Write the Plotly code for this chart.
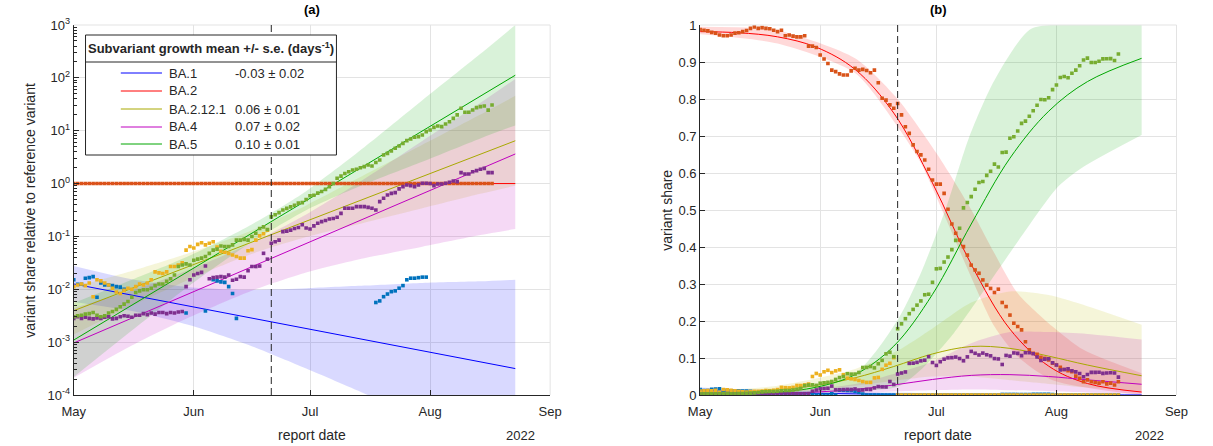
import numpy as np
import pandas as pd
import plotly.graph_objects as go

START = pd.Timestamp("2022-05-01")

variants = ["BA.1", "BA.2", "BA.2.12.1", "BA.4", "BA.5"]
growth_text = ["-0.03 ± 0.02", "", "0.06 ± 0.01", "0.07 ± 0.02", "0.10 ± 0.01"]

fit_colors = ["#0000FF", "#FF0000", "#A8A800", "#BF00BF", "#00A600"]
band_colors = ["rgba(0,0,255,0.15)", "rgba(255,0,0,0.15)", "rgba(190,190,0,0.15)",
               "rgba(190,0,190,0.15)", "rgba(0,166,0,0.15)"]
dot_colors = ["#0072BD", "#D95319", "#EDB120", "#7E2F8E", "#77AC30"]

# ---------- observed data: log10(share / share of BA.2), days since 1 May 2022 ----------
ba1_days = [0, 1, 2, 3, 4, 5, 6, 7, 8, 9, 10, 11, 12, 13, 29, 34, 36, 37, 38, 39, 40, 41, 42,
            78, 79, 80, 81, 82, 83, 84, 85, 86, 87, 88, 89, 90, 91]
ba1_log10 = [-1.82, -1.905, -1.905, -1.79, -1.78, -1.76, -2.15, -1.88, -1.92, -1.92, -1.93, -1.95,
             -1.96, -2.0, -2.45, -2.41, -1.82, -1.84, -1.86, -1.87, -1.95, -2.08, -2.55,
             -2.25, -2.22, -2.14, -2.09, -2.045, -2.03, -1.98, -1.93, -1.82, -1.79, -1.79, -1.78,
             -1.77, -1.77]

ba2_days = list(range(0, 109))
ba2_log10 = [0.0] * 109

ba2121_days = list(range(0, 51))
ba2121_log10 = [-1.95, -1.92, -1.90, -1.93, -1.88, -2.14, -1.82, -1.84, -1.88, -1.92,
                -1.98, -2.05, -2.08, -2.02, -1.98, -2.00, -1.95, -1.90, -1.92, -1.88,
                -1.82, -1.67, -1.69, -1.70, -1.67, -1.57, -1.57, -1.54, -1.50, -1.26,
                -1.19, -1.22, -1.15, -1.12, -1.16, -1.13, -1.10, -1.20, -1.28, -1.30,
                -1.32, -1.35, -1.38, -1.41, -1.41, -1.27, -1.25, -1.07, -0.99, -0.95, -0.88]

ba4_days = list(range(0, 109))
ba4_log10 = [-2.55, -2.52, -2.55, -2.53, -2.55, -2.56, -2.54, -2.55, -2.53, -2.52,
             -2.56, -2.55, -2.52, -2.50, -2.51, -2.53, -2.49, -2.49, -2.46, -2.48,
             -2.45, -2.47, -2.44, -2.44, -2.46, -2.44, -2.45, -2.43, -2.42, -1.95,
             -1.82, -1.73, -1.70, -1.68, -1.56, -1.80, -1.78, -1.77, -1.76, -1.77,
             -1.73, -1.83, -1.81, -1.76, -1.77, -1.65, -1.57, -1.57, -1.56, -1.32,
             -1.43, -1.13, -1.10, -1.07, -0.91, -0.90, -0.88, -0.85, -0.83, -0.78,
             -0.84, -0.86, -0.80, -0.75, -0.72, -0.70, -0.67, -0.66, -0.638, -0.563,
             -0.468, -0.468, -0.468, -0.437, -0.437, -0.437, -0.45, -0.468, -0.50, -0.342,
             -0.279, -0.216, -0.185, -0.172, -0.10, -0.058, -0.027, -0.039, -0.058, -0.027,
             0.005, 0.005, 0.0, -0.039, -0.007, -0.007, 0.005, 0.024, 0.049, 0.036,
             0.207, 0.181, 0.181, 0.225, 0.244, 0.27, 0.288, 0.207, 0.207]

ba5_days = list(range(0, 109))
ba5_log10 = [-2.52, -2.50, -2.49, -2.47, -2.46, -2.44, -2.49, -2.52, -2.50, -2.45,
             -2.42, -2.38, -2.33, -2.28, -2.23, -2.15, -2.06, -2.03, -2.01, -2.01,
             -1.98, -1.93, -1.90, -1.90, -1.85, -1.80, -1.73, -1.57, -1.54, -1.52,
             -1.54, -1.45, -1.43, -1.41, -1.38, -1.32, -1.26, -1.24, -1.18, -1.19,
             -1.19, -1.16, -1.07, -1.07, -1.055, -1.07, -1.00, -0.94, -0.85, -0.82,
             -0.87, -0.63, -0.59, -0.55, -0.50, -0.47, -0.44, -0.41, -0.37, -0.36,
             -0.30, -0.23, -0.22, -0.18, -0.15, -0.11, -0.06, 0.0, 0.10, 0.14,
             0.19, 0.225, 0.257, 0.27, 0.30, 0.32, 0.352, 0.333, 0.40, 0.446,
             0.541, 0.572, 0.617, 0.667, 0.711, 0.761, 0.812, 0.843, 0.875, 0.888,
             0.919, 0.982, 1.014, 1.064, 1.089, 1.077, 1.127, 1.171, 1.234, 1.30,
             1.424, 1.348, 1.348, 1.392, 1.436, 1.455, 1.468, 1.39, 1.487]

obs_days = [ba1_days, ba2_days, ba2121_days, ba4_days, ba5_days]
obs_log10 = [ba1_log10, ba2_log10, ba2121_log10, ba4_log10, ba5_log10]

# BA.2 share, days 0..108
ba2_share_obs = [0.988, 0.986, 0.984, 0.980, 0.978, 0.973, 0.971, 0.971, 0.973, 0.978,
                 0.979, 0.982, 0.985, 0.991, 0.995, 0.991, 0.993, 0.991, 0.990, 0.986,
                 0.982, 0.986, 0.971, 0.973, 0.970, 0.968, 0.968, 0.971, 0.943, 0.943,
                 0.939, 0.919, 0.908, 0.896, 0.878, 0.874, 0.868, 0.865, 0.865, 0.876,
                 0.883, 0.878, 0.880, 0.877, 0.871, 0.878, 0.844, 0.802, 0.797, 0.784,
                 0.775, 0.788, 0.757, 0.725, 0.707, 0.676, 0.658, 0.649, 0.635, 0.610,
                 0.581, 0.570, 0.570, 0.545, 0.502, 0.462, 0.437, 0.419, 0.401, 0.378,
                 0.351, 0.338, 0.329, 0.311, 0.297, 0.288, 0.277, 0.286, 0.250, 0.239,
                 0.216, 0.194, 0.185, 0.176, 0.144, 0.122, 0.113, 0.110, 0.102, 0.099,
                 0.095, 0.086, 0.081, 0.075, 0.069, 0.066, 0.063, 0.051, 0.045, 0.036,
                 0.041, 0.036, 0.034, 0.032, 0.036, 0.030, 0.032, 0.027, 0.036]

# ---------- panel (a): fitted log-linear trends (log10 ratio at first / last fit day) ----------
fit_days = [0, 114]
fit_log10 = [[-1.9, -3.5], [0.0, 0.0], [-2.405, 0.81], [-3.016, 0.56], [-2.96, 2.05]]

band_days_a = [0, 15, 30, 45, 60, 75, 90, 105, 114]
band_up_a = [
    [-1.56, -1.81, -1.96, -2.01, -1.98, -1.93, -1.88, -1.85, -1.82],
    None,
    [-1.955, -1.652, -1.309, -0.916, -0.413, 0.16, 0.733, 1.306, 1.66],
    [-2.356, -2.025, -1.625, -1.154, -0.584, 0.087, 0.807, 1.528, 1.98],
    [-2.26, -1.821, -1.362, -0.812, -0.143, 0.686, 1.575, 2.455, 3.0],
]
band_lo_a = [
    [-2.24, -2.41, -2.68, -3.05, -3.50, -3.97, -4.44, -4.89, -5.18],
    None,
    [-2.855, -2.312, -1.809, -1.356, -1.013, -0.74, -0.467, -0.194, -0.04],
    [-3.676, -3.065, -2.525, -2.054, -1.684, -1.413, -1.193, -0.972, -0.86],
    [-3.66, -2.781, -1.922, -1.152, -0.503, -0.014, 0.415, 0.855, 1.10],
]

# ---------- panel (b): fitted shares and bands ----------
share_fit_days = [0, 10, 20, 30, 40, 50, 60, 70, 80, 90, 100, 114]
share_fit = [
    [0.012, 0.009, 0.006, 0.0045, 0.003, 0.002, 0.001, 0.0005, 0.0002, 0.0001, 0.00005, 0.00001],
    [0.982, 0.979, 0.968, 0.940, 0.880, 0.762, 0.573, 0.353, 0.178, 0.078, 0.031, 0.008],
    [0.004, 0.007, 0.014, 0.026, 0.0465, 0.077, 0.111, 0.131, 0.126, 0.105, 0.081, 0.052],
    [0.001, 0.002, 0.004, 0.008, 0.015, 0.027, 0.042, 0.053, 0.055, 0.050, 0.041, 0.029],
    [0.001, 0.003, 0.008, 0.021, 0.055, 0.132, 0.272, 0.462, 0.640, 0.767, 0.847, 0.910],
]
band_b_up_days = [
    [0, 20, 40, 60, 80, 100, 114],
    [0, 20, 40, 51, 61, 69.5, 76, 82, 91, 99, 114],
    [0, 20, 40, 51, 60, 70, 80, 90, 100, 114],
    [0, 20, 40, 51, 60, 70, 80, 90, 100, 114],
    [0, 20, 40, 51, 57, 63.6, 69.5, 76, 85.5, 100, 114],
]
band_b_up = [
    [0.02, 0.012, 0.008, 0.005, 0.004, 0.004, 0.004],
    [0.995, 0.985, 0.91, 0.80, 0.654, 0.51, 0.383, 0.275, 0.185, 0.122, 0.059],
    [0.01, 0.025, 0.07, 0.12, 0.18, 0.25, 0.28, 0.27, 0.24, 0.19],
    [0.003, 0.008, 0.03, 0.06, 0.09, 0.14, 0.17, 0.17, 0.165, 0.15],
    [0.003, 0.012, 0.059, 0.203, 0.33, 0.509, 0.698, 0.851, 0.99, 1.0, 1.0],
]
band_b_lo_days = [
    [0, 20, 40, 60, 80, 100, 114],
    [0, 20, 40, 51, 57, 63.6, 69.5, 76, 82, 91, 114],
    [0, 20, 40, 51, 60, 70, 80, 90, 100, 114],
    [0, 20, 40, 51, 60, 70, 80, 90, 100, 114],
    [0, 40, 51, 57, 65.5, 74, 82.3, 92.4, 99, 114],
]
band_b_lo = [
    [0.007, 0.003, 0.001, 0.0, 0.0, 0.0, 0.0],
    [0.975, 0.95, 0.87, 0.725, 0.627, 0.473, 0.33, 0.185, 0.104, 0.04, 0.0],
    [0.0, 0.005, 0.025, 0.04, 0.05, 0.05, 0.04, 0.03, 0.02, 0.01],
    [0.0, 0.001, 0.005, 0.01, 0.013, 0.015, 0.013, 0.01, 0.007, 0.005],
    [0.0, 0.01, 0.022, 0.068, 0.167, 0.293, 0.419, 0.563, 0.617, 0.703],
]

DASH_DAY = 51  # 21 June

# ---------------------------------------------------------------------------------
W, H = 1213, 446
L_DOM = [63 / W, 549 / W]
R_DOM = [702 / W, 1188 / W]
TXT = "#262626"
GRID = "#E3E3E3"
FONT = "Liberation Sans, Arial, Helvetica, sans-serif"
MSIZE = 3.6


def dates(days):
    return [START + pd.Timedelta(days=float(d)) for d in days]


fig = go.Figure()


def add_band(x_lo, y_lo, x_up, y_up, color, xa, ya):
    fig.add_trace(go.Scatter(x=x_lo, y=y_lo, mode="lines",
                             line=dict(width=0, shape="spline", smoothing=0.7),
                             xaxis=xa, yaxis=ya, hoverinfo="skip"))
    fig.add_trace(go.Scatter(x=x_up, y=y_up, mode="lines", fill="tonexty", fillcolor=color,
                             line=dict(width=0, shape="spline", smoothing=0.7),
                             xaxis=xa, yaxis=ya, hoverinfo="skip"))


# ---- panel (a) bands
for i in range(5):
    if band_up_a[i] is None:
        continue
    add_band(dates(band_days_a), 10 ** np.array(band_lo_a[i]),
             dates(band_days_a), 10 ** np.array(band_up_a[i]), band_colors[i], "x", "y")
# ---- panel (a) fit lines
for i in range(5):
    fig.add_trace(go.Scatter(x=dates(fit_days), y=10 ** np.array(fit_log10[i]), mode="lines",
                             line=dict(color=fit_colors[i], width=1), xaxis="x", yaxis="y"))
# ---- panel (a) observations
for i in range(5):
    fig.add_trace(go.Scatter(x=dates(obs_days[i]), y=10 ** np.array(obs_log10[i]), mode="markers",
                             marker=dict(symbol="square", size=MSIZE, color=dot_colors[i],
                                         line=dict(width=0)),
                             xaxis="x", yaxis="y"))

# ---- panel (b) bands
for i in range(5):
    add_band(dates(band_b_lo_days[i]), band_b_lo[i], dates(band_b_up_days[i]), band_b_up[i],
             band_colors[i], "x2", "y2")
# ---- panel (b) fitted shares
for i in range(5):
    fig.add_trace(go.Scatter(x=dates(share_fit_days), y=share_fit[i], mode="lines",
                             line=dict(color=fit_colors[i], width=1, shape="spline"),
                             xaxis="x2", yaxis="y2"))
# ---- panel (b) observed shares (ratios normalised per day; missing = zero count)
n_days = 109
ratio_full = np.zeros((5, n_days))
for i in range(5):
    for d, v in zip(obs_days[i], obs_log10[i]):
        ratio_full[i, d] = 10 ** v
shares = ratio_full / ratio_full.sum(axis=0)
shares[1] = np.array(ba2_share_obs)
for i in range(5):
    fig.add_trace(go.Scatter(x=dates(range(n_days)), y=shares[i], mode="markers",
                             marker=dict(symbol="square", size=MSIZE, color=dot_colors[i],
                                         line=dict(width=0)),
                             xaxis="x2", yaxis="y2"))

month_ticks = ["2022-05-01", "2022-06-01", "2022-07-01", "2022-08-01", "2022-09-01"]
month_text = ["May", "Jun", "Jul", "Aug", "Sep"]
xcommon = dict(range=["2022-05-01", "2022-09-01"], tickvals=month_ticks, ticktext=month_text,
               ticks="inside", ticklen=5, tickcolor=TXT, showline=True, linecolor=TXT,
               linewidth=1, showgrid=True, gridcolor=GRID, gridwidth=1, zeroline=False,
               tickfont=dict(family=FONT, size=13, color=TXT), ticklabelstandoff=4)
ycommon = dict(ticks="inside", ticklen=5, tickcolor=TXT, showline=True, linecolor=TXT,
               linewidth=1, showgrid=True, gridcolor=GRID, gridwidth=1, zeroline=False,
               tickfont=dict(family=FONT, size=13, color=TXT), domain=[0, 1])

fig.update_layout(
    width=W, height=H, margin=dict(l=0, r=0, t=25, b=51),
    paper_bgcolor="white", plot_bgcolor="white", showlegend=False,
    font=dict(family=FONT, color=TXT),
    xaxis=dict(domain=L_DOM, anchor="y", **xcommon),
    xaxis2=dict(domain=R_DOM, anchor="y2", **xcommon),
    yaxis=dict(anchor="x", type="log", range=[-4, 3],
               tickvals=[10.0 ** k for k in range(-4, 4)],
               ticktext=[f"10<sup>{k}</sup>" for k in range(-4, 4)],
               minor=dict(tickvals=[m * 10.0 ** k for k in range(-4, 3) for m in range(2, 10)],
                          ticks="inside", ticklen=3, tickcolor=TXT, showgrid=False),
               **ycommon),
    yaxis2=dict(anchor="x2", range=[0, 1],
                tickvals=[k / 10 for k in range(11)],
                ticktext=["0"] + [f"{k / 10:.1f}" for k in range(1, 10)] + ["1"],
                **ycommon),
)

shapes = []
# top / right frame (light) for both panels
for xr, yr in (("x domain", "y domain"), ("x2 domain", "y2 domain")):
    shapes.append(dict(type="line", xref=xr, yref=yr, x0=0, x1=1, y0=1, y1=1,
                       line=dict(color=GRID, width=1)))
    shapes.append(dict(type="line", xref=xr, yref=yr, x0=1, x1=1, y0=0, y1=1,
                       line=dict(color=GRID, width=1)))
# dashed reference date
dash_date = START + pd.Timedelta(days=DASH_DAY)
for xr, yr in (("x", "y domain"), ("x2", "y2 domain")):
    shapes.append(dict(type="line", xref=xr, yref=yr, x0=dash_date, x1=dash_date, y0=0, y1=1,
                       line=dict(color=TXT, width=1, dash="7px,4px"), layer="above"))


def px_x(px):
    return px / W


def px_y(py):
    return (395 - py) / 370


# legend box
shapes.append(dict(type="rect", xref="paper", yref="paper", x0=px_x(75), x1=px_x(331),
                   y0=px_y(155), y1=px_y(35), fillcolor="white",
                   line=dict(color=TXT, width=1), layer="above"))
shapes.append(dict(type="line", xref="paper", yref="paper", x0=px_x(75), x1=px_x(331),
                   y0=px_y(62), y1=px_y(62), line=dict(color=TXT, width=1), layer="above"))
legend_rows = [73, 91, 109, 127, 144]
annotations = []
for i, ry in enumerate(legend_rows):
    shapes.append(dict(type="line", xref="paper", yref="paper", x0=px_x(111), x1=px_x(153),
                       y0=px_y(ry), y1=px_y(ry), line=dict(color=fit_colors[i], width=1),
                       layer="above"))
    annotations.append(dict(xref="paper", yref="paper", x=px_x(158), y=px_y(ry), text=variants[i],
                            showarrow=False, xanchor="left", yanchor="middle",
                            font=dict(family=FONT, size=13, color=TXT)))
    if growth_text[i]:
        annotations.append(dict(xref="paper", yref="paper", x=px_x(225), y=px_y(ry),
                                text=growth_text[i], showarrow=False, xanchor="left",
                                yanchor="middle", font=dict(family=FONT, size=13, color=TXT)))
annotations.append(dict(xref="paper", yref="paper", x=px_x(203), y=px_y(48),
                        text="<b>Subvariant growth mean +/- s.e. (days<sup>-1</sup>)</b>",
                        showarrow=False, xanchor="center", yanchor="middle",
                        font=dict(family=FONT, size=13, color=TXT)))

# titles, axis labels, year labels
for xc, t in ((306, "<b>(a)</b>"), (945, "<b>(b)</b>")):
    annotations.append(dict(xref="paper", yref="paper", x=px_x(xc), y=px_y(10), text=t,
                            showarrow=False, xanchor="center", yanchor="middle",
                            font=dict(family=FONT, size=13, color="black")))
for xc in (306, 945):
    annotations.append(dict(xref="paper", yref="paper", x=px_x(xc), y=px_y(435),
                            text="report date", showarrow=False, xanchor="center",
                            yanchor="middle", font=dict(family=FONT, size=14, color=TXT)))
for xc in (519, 1160):
    annotations.append(dict(xref="paper", yref="paper", x=px_x(xc), y=px_y(435), text="2022",
                            showarrow=False, xanchor="center", yanchor="middle",
                            font=dict(family=FONT, size=13, color=TXT)))
annotations.append(dict(xref="paper", yref="paper", x=px_x(18), y=px_y(210),
                        text="variant share relative to reference variant", textangle=-90,
                        showarrow=False, xanchor="center", yanchor="middle",
                        font=dict(family=FONT, size=14, color=TXT)))
annotations.append(dict(xref="paper", yref="paper", x=px_x(668), y=px_y(210),
                        text="variant share", textangle=-90, showarrow=False,
                        xanchor="center", yanchor="middle",
                        font=dict(family=FONT, size=14, color=TXT)))

fig.update_layout(shapes=shapes, annotations=annotations)
fig.write_html("out.html")
